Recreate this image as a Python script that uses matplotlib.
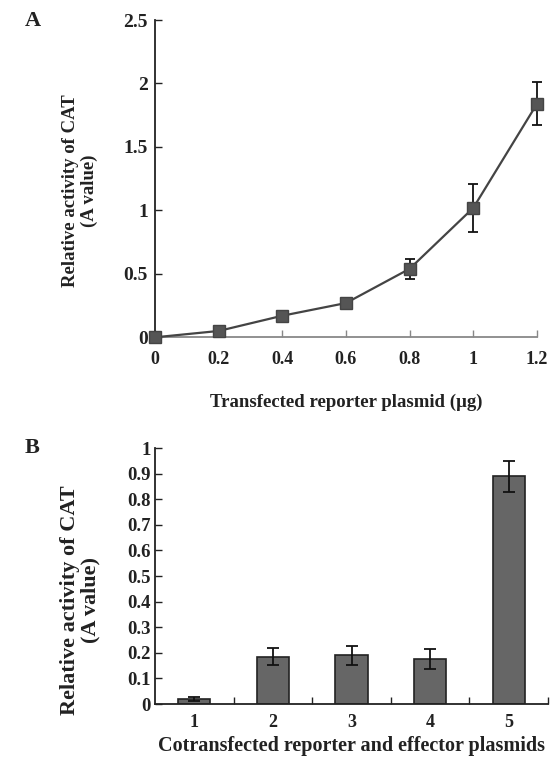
"""Two-panel CAT activity figure: dose curve (A) and cotransfection bars (B)."""

import matplotlib

matplotlib.use("Agg")
import matplotlib.pyplot as plt
import numpy as np

# Panel A: transfected reporter plasmid dose curve
dose_ug = [0.0, 0.2, 0.4, 0.6, 0.8, 1.0, 1.2]
dose_activity = [0.0, 0.05, 0.17, 0.27, 0.54, 1.02, 1.84]
dose_err = [0.0, 0.0, 0.0, 0.0, 0.08, 0.19, 0.17]

# Panel B: cotransfected reporter and effector plasmids
groups = [1, 2, 3, 4, 5]
group_activity = [0.02, 0.185, 0.19, 0.175, 0.89]
group_err = [0.008, 0.033, 0.038, 0.04, 0.06]

plt.rcParams.update(
    {
        "font.family": "Liberation Serif",
        "font.weight": "bold",
        "axes.labelweight": "bold",
        "text.color": "#222222",
        "axes.labelcolor": "#222222",
        "axes.edgecolor": "#222222",
        "xtick.color": "#222222",
        "ytick.color": "#222222",
    }
)

fig = plt.figure(figsize=(5.56, 7.64), dpi=100)

# ---- panel A
ax_a = fig.add_axes([0.2788, 0.5585, 0.687, 0.4153])
ax_a.errorbar(
    dose_ug,
    dose_activity,
    yerr=dose_err,
    color="#444444",
    ecolor="#111111",
    elinewidth=1.3,
    capsize=3.5,
    capthick=1.3,
    linewidth=1.6,
    marker="s",
    markersize=9,
    markerfacecolor="#555555",
    markeredgecolor="#444444",
    clip_on=False,
    zorder=3,
)
ax_a.set_xlim(0, 1.2)
ax_a.set_ylim(0, 2.5)
ax_a.set_xticks(dose_ug, ["0", "0.2", "0.4", "0.6", "0.8", "1", "1.2"])
ax_a.set_yticks([0, 0.5, 1, 1.5, 2, 2.5], ["0", "0.5", "1", "1.5", "2", "2.5"])
ax_a.spines["top"].set_visible(False)
ax_a.spines["right"].set_visible(False)
ax_a.spines["left"].set_linewidth(1.3)
ax_a.spines["bottom"].set_color("#888888")
ax_a.spines["bottom"].set_linewidth(1.3)
ax_a.tick_params(axis="y", direction="in", length=5, width=1.0, labelsize=14, pad=5)
ax_a.tick_params(axis="x", direction="in", length=5, width=1.0, labelsize=13,
                 color="#888888", pad=10)
ax_a.set_xlabel("Transfected reporter plasmid (µg)", fontsize=13.5, labelpad=18)
fig.text(0.144, 0.75, "Relative activity of CAT\n(A value)", rotation=90,
         ha="center", va="center", fontsize=13.5, linespacing=1.15)
fig.text(0.045, 0.972, "A", fontsize=16, ha="left", va="center")

# ---- panel B
ax_b = fig.add_axes([0.2788, 0.0785, 0.7068, 0.335])
x = np.array(groups)
ax_b.bar(x, group_activity, width=0.41, color="#666666", edgecolor="#222222",
         linewidth=1.2, zorder=2)
ax_b.errorbar(x, group_activity, yerr=group_err, fmt="none", ecolor="#111111",
              elinewidth=1.3, capsize=4.5, capthick=1.3, zorder=3)
ax_b.set_xlim(0.5, 5.5)
ax_b.set_ylim(0, 1)
ax_b.set_xticks(x, [str(g) for g in groups])
ax_b.set_xticks(np.arange(1.5, 5.6, 1.0), minor=True)
ax_b.set_yticks(np.round(np.arange(0, 1.01, 0.1), 1),
                ["0"] + [f"{v:.1f}" for v in np.arange(0.1, 0.95, 0.1)] + ["1"])
ax_b.spines["top"].set_visible(False)
ax_b.spines["right"].set_visible(False)
ax_b.spines["left"].set_linewidth(1.3)
ax_b.spines["bottom"].set_linewidth(1.3)
ax_b.tick_params(axis="y", direction="in", length=5, width=1.0, labelsize=13.5, pad=3)
ax_b.tick_params(axis="x", which="major", length=0, labelsize=13, pad=7)
ax_b.tick_params(axis="x", which="minor", direction="in", length=5, width=1.0)
ax_b.set_xlabel("Cotransfected reporter and effector plasmids", fontsize=14.5, labelpad=4)
fig.text(0.144, 0.215, "Relative activity of CAT\n(A value)", rotation=90,
         ha="center", va="center", fontsize=16, linespacing=1.0)
fig.text(0.045, 0.414, "B", fontsize=16, ha="left", va="center")

fig.savefig("out.png", dpi=100)
